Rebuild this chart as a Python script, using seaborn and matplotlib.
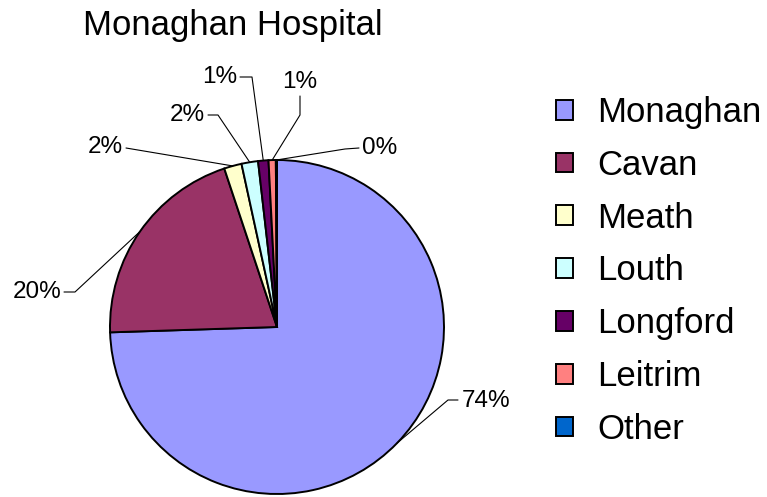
import matplotlib
matplotlib.use('Agg')
import matplotlib.pyplot as plt
import matplotlib.patches as mpatches
import seaborn as sns
import numpy as np

# Patient origin share for Monaghan Hospital (%)
counties = ['Monaghan', 'Cavan', 'Meath', 'Louth', 'Longford', 'Leitrim', 'Other']
shares = [74.49, 20.4, 1.7, 1.6, 1.0, 0.7, 0.11]
colors = ['#9999FF', '#993366', '#FFFFCC', '#CCFFFF', '#660066', '#FF8080', '#0066CC']

sns.set_style('white')
plt.rcParams['font.family'] = ['Liberation Sans', 'DejaVu Sans']
plt.rcParams['text.color'] = 'black'

W, H = 767, 497
fig = plt.figure(figsize=(W / 100, H / 100), dpi=100)
ax = fig.add_axes([0, 0, 1, 1])

cx, cy, r = 277, H - 327, 167
wedges, _ = ax.pie(shares, colors=colors, startangle=90, counterclock=False,
                   center=(cx, cy), radius=r,
                   wedgeprops=dict(edgecolor='black', linewidth=1.4))
ax.set_xlim(0, W)
ax.set_ylim(0, H)
ax.set_aspect('equal')
ax.axis('off')

# label placement: (text x, text y, ha, path points after the wedge edge), pixel coords from top
label_spots = [
    (462, 401, 'left', [(448, 400), (458, 400)]),
    (61, 292, 'right', [(75, 292), (64, 292)]),
    (123, 147, 'right', [(126, 148)]),
    (205, 115, 'right', [(218, 115), (208, 115)]),
    (237, 77, 'right', [(252, 77), (240, 77)]),
    (300, 82, 'center', [(300, 115), (300, 96)]),
    (362, 148, 'left', [(345, 149), (359, 148)]),
]

for w, val, (tx, ty, ha, pts) in zip(wedges, shares, label_spots):
    mid = np.deg2rad((w.theta1 + w.theta2) / 2)
    ex, ey = cx + r * np.cos(mid), cy + r * np.sin(mid)
    xs = [ex] + [p[0] for p in pts]
    ys = [ey] + [H - p[1] for p in pts]
    ax.plot(xs, ys, color='black', linewidth=0.8, clip_on=False)
    ax.text(tx, H - ty, f'{val:.0f}%', ha=ha, va='center', fontsize=17.5,
            color='black', clip_on=False)

fig.text(233 / W, 1 - 26 / H, 'Monaghan Hospital', ha='center', va='center',
         fontsize=25, color='black')

handles = [mpatches.Patch(facecolor=c, edgecolor='black', linewidth=1.4) for c in colors]
leg = fig.legend(handles, counties, loc='center left', bbox_to_anchor=(556 / W, 1 - 271 / H),
                 frameon=False, fontsize=25, handlelength=0.5, handleheight=0.5,
                 handletextpad=0.68, labelspacing=0.57, borderpad=0, borderaxespad=0)
for t in leg.get_texts():
    t.set_color('black')

fig.savefig('out.png', dpi=100)
